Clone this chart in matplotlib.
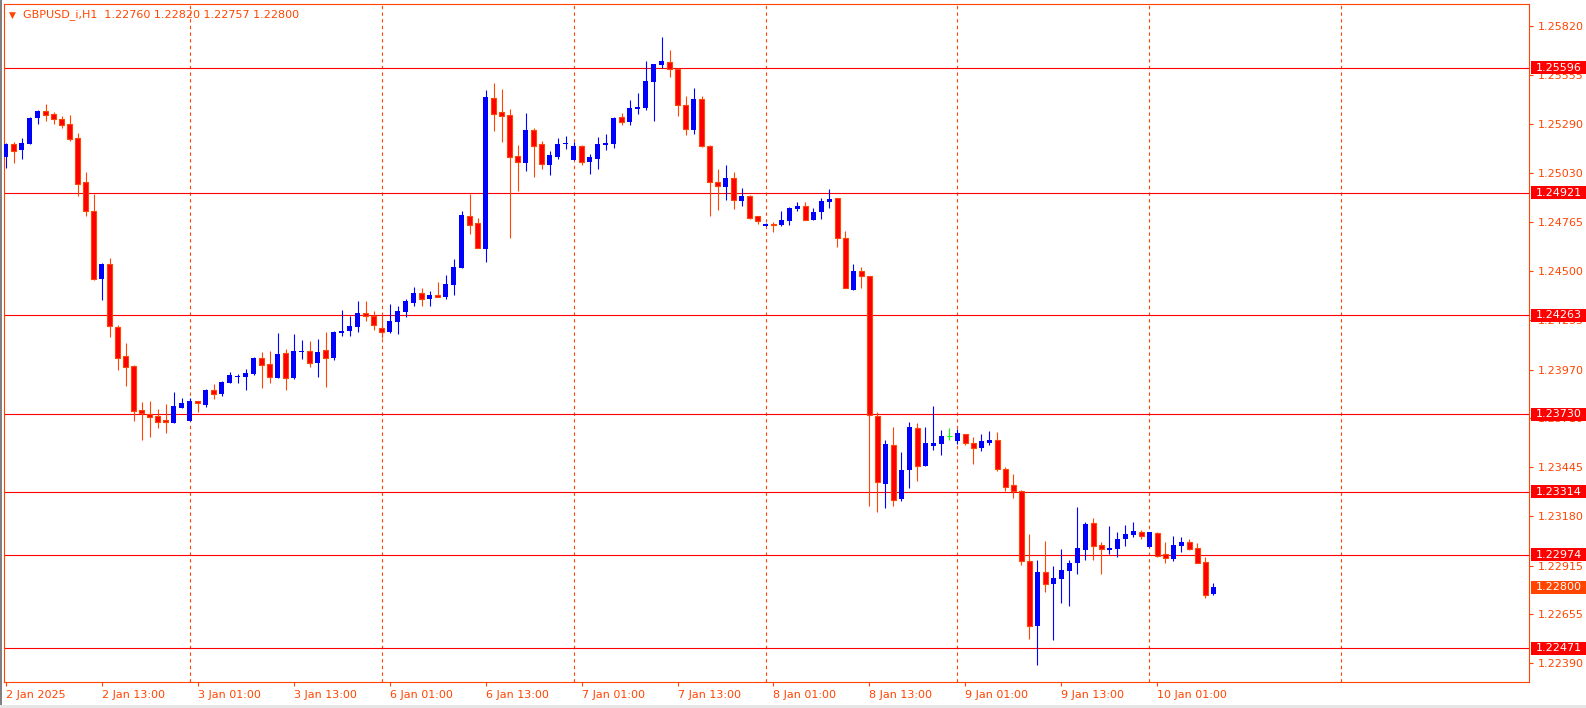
import numpy as np
import pandas as pd
import matplotlib
matplotlib.use("Agg")
import matplotlib.pyplot as plt
import matplotlib.transforms as mtransforms
from matplotlib.patches import Rectangle

symbol = "GBPUSD_i,H1"

# hourly bars, 2 Jan 01:00 .. 3 Jan 23:00 and 6 Jan 00:00 .. 10 Jan 08:00
times = pd.date_range("2025-01-02 01:00", "2025-01-03 23:00", freq="h").append(
    pd.date_range("2025-01-06 00:00", "2025-01-10 08:00", freq="h"))

opens = [1.25117, 1.25185, 1.25153, 1.25185, 1.25326, 1.25363, 1.25346, 1.25320, 1.25293, 1.25217,
         1.24980, 1.24824, 1.24460, 1.24539, 1.24200, 1.24044, 1.23990, 1.23753, 1.23732, 1.23721,
         1.23701, 1.23685, 1.23766, 1.23696, 1.23800, 1.23780, 1.23859, 1.23839, 1.23900, 1.23931,
         1.23931, 1.23947, 1.24032, 1.24001, 1.23927, 1.24059, 1.23924, 1.24066, 1.24069, 1.24008,
         1.24076, 1.24033, 1.24169, 1.24180, 1.24200, 1.24274, 1.24259, 1.24193, 1.24173, 1.24227,
         1.24281, 1.24329, 1.24383, 1.24352, 1.24372, 1.24362, 1.24426, 1.24518, 1.24797, 1.24760,
         1.24620, 1.25433, 1.25356, 1.25341, 1.25119, 1.25084, 1.25260, 1.25185, 1.25074, 1.25115,
         1.25183, 1.25100, 1.25173, 1.25090, 1.25106, 1.25181, 1.25187, 1.25329, 1.25305, 1.25375,
         1.25380, 1.25520, 1.25612, 1.25625, 1.25589, 1.25395, 1.25262, 1.25427, 1.25173, 1.24979,
         1.24955, 1.25000, 1.24880, 1.24903, 1.24796, 1.24745, 1.24756, 1.24749, 1.24772, 1.24835,
         1.24851, 1.24778, 1.24819, 1.24873, 1.24894, 1.24679, 1.24401, 1.24500, 1.24475, 1.23721,
         1.23357, 1.23565, 1.23274, 1.23430, 1.23656, 1.23454, 1.23561, 1.23572, 1.23615, 1.23588,
         1.23624, 1.23576, 1.23550, 1.23576, 1.23592, 1.23436, 1.23350, 1.23317, 1.22941, 1.22592,
         1.22881, 1.22818, 1.22845, 1.22888, 1.22932, 1.23001, 1.23145, 1.23025, 1.23001, 1.23007,
         1.23061, 1.23082, 1.23097, 1.23018, 1.23091, 1.22978, 1.22953, 1.23023, 1.23043, 1.23011,
         1.22935, 1.22760]
highs = [1.25190, 1.25197, 1.25219, 1.25330, 1.25368, 1.25400, 1.25357, 1.25336, 1.25343, 1.25246,
         1.25034, 1.24917, 1.24544, 1.24573, 1.24211, 1.24114, 1.23995, 1.23796, 1.23803, 1.23760,
         1.23787, 1.23850, 1.23818, 1.23820, 1.23803, 1.23866, 1.23893, 1.23911, 1.23958, 1.23949,
         1.23974, 1.24040, 1.24067, 1.24073, 1.24168, 1.24082, 1.24162, 1.24130, 1.24125, 1.24135,
         1.24173, 1.24178, 1.24291, 1.24259, 1.24340, 1.24340, 1.24286, 1.24265, 1.24324, 1.24313,
         1.24351, 1.24415, 1.24410, 1.24394, 1.24442, 1.24480, 1.24566, 1.24824, 1.24917, 1.24787,
         1.25476, 1.25513, 1.25481, 1.25373, 1.25180, 1.25352, 1.25271, 1.25201, 1.25147, 1.25217,
         1.25228, 1.25196, 1.25180, 1.25131, 1.25223, 1.25239, 1.25330, 1.25352, 1.25422, 1.25459,
         1.25632, 1.25616, 1.25761, 1.25692, 1.25596, 1.25443, 1.25486, 1.25443, 1.25180, 1.25050,
         1.25072, 1.25034, 1.24948, 1.24909, 1.24797, 1.24761, 1.24765, 1.24824, 1.24846, 1.24873,
         1.24873, 1.24841, 1.24894, 1.24943, 1.24895, 1.24717, 1.24539, 1.24525, 1.24476, 1.23743,
         1.23592, 1.23662, 1.23527, 1.23689, 1.23683, 1.23663, 1.23775, 1.23646, 1.23656, 1.23651,
         1.23625, 1.23608, 1.23624, 1.23640, 1.23635, 1.23447, 1.23409, 1.23323, 1.23086, 1.22946,
         1.23048, 1.22914, 1.23005, 1.22946, 1.23231, 1.23151, 1.23172, 1.23043, 1.23129, 1.23097,
         1.23134, 1.23151, 1.23108, 1.23098, 1.23097, 1.23043, 1.23075, 1.23070, 1.23059, 1.23038,
         1.22962, 1.22820]
lows = [1.25057, 1.25081, 1.25104, 1.25183, 1.25294, 1.25310, 1.25293, 1.25273, 1.25203, 1.24905,
        1.24797, 1.24453, 1.24345, 1.24148, 1.23969, 1.23882, 1.23694, 1.23592, 1.23610, 1.23658,
        1.23631, 1.23683, 1.23764, 1.23694, 1.23744, 1.23771, 1.23811, 1.23830, 1.23899, 1.23899,
        1.23861, 1.23942, 1.23872, 1.23899, 1.23925, 1.23861, 1.23922, 1.24028, 1.23985, 1.23931,
        1.23877, 1.24024, 1.24152, 1.24152, 1.24173, 1.24232, 1.24184, 1.24141, 1.24170, 1.24164,
        1.24254, 1.24315, 1.24315, 1.24315, 1.24362, 1.24352, 1.24372, 1.24516, 1.24702, 1.24625,
        1.24550, 1.25255, 1.25197, 1.24681, 1.24934, 1.25041, 1.25009, 1.25052, 1.25020, 1.25106,
        1.25160, 1.25099, 1.25074, 1.25025, 1.25052, 1.25154, 1.25165, 1.25289, 1.25289, 1.25348,
        1.25370, 1.25310, 1.25594, 1.25547, 1.25337, 1.25233, 1.25240, 1.25171, 1.24799, 1.24831,
        1.24885, 1.24837, 1.24853, 1.24783, 1.24754, 1.24744, 1.24711, 1.24744, 1.24749, 1.24824,
        1.24776, 1.24776, 1.24781, 1.24841, 1.24631, 1.24410, 1.24399, 1.24412, 1.23238, 1.23206,
        1.23228, 1.23238, 1.23265, 1.23334, 1.23373, 1.23452, 1.23540, 1.23513, 1.23592, 1.23570,
        1.23565, 1.23464, 1.23534, 1.23567, 1.23427, 1.23317, 1.23280, 1.22921, 1.22522, 1.22382,
        1.22775, 1.22517, 1.22716, 1.22700, 1.22872, 1.22948, 1.22948, 1.22872, 1.22980, 1.22964,
        1.23023, 1.23071, 1.23057, 1.23017, 1.22964, 1.22932, 1.22942, 1.22991, 1.23001, 1.22930,
        1.22743, 1.22757]
closes = [1.25185, 1.25149, 1.25192, 1.25325, 1.25364, 1.25343, 1.25318, 1.25289, 1.25213, 1.24971,
          1.24823, 1.24458, 1.24541, 1.24204, 1.24035, 1.23986, 1.23750, 1.23739, 1.23714, 1.23690,
          1.23687, 1.23776, 1.23791, 1.23802, 1.23789, 1.23861, 1.23841, 1.23904, 1.23940, 1.23938,
          1.23952, 1.24035, 1.23997, 1.23933, 1.24055, 1.23927, 1.24071, 1.24073, 1.24008, 1.24066,
          1.24035, 1.24173, 1.24178, 1.24205, 1.24275, 1.24258, 1.24209, 1.24175, 1.24232, 1.24286,
          1.24340, 1.24383, 1.24352, 1.24372, 1.24363, 1.24431, 1.24523, 1.24803, 1.24751, 1.24627,
          1.25438, 1.25348, 1.25337, 1.25117, 1.25090, 1.25260, 1.25176, 1.25079, 1.25126, 1.25185,
          1.25190, 1.25174, 1.25085, 1.25115, 1.25185, 1.25192, 1.25325, 1.25305, 1.25379, 1.25379,
          1.25524, 1.25615, 1.25632, 1.25587, 1.25393, 1.25264, 1.25427, 1.25173, 1.24979, 1.24957,
          1.25002, 1.24882, 1.24903, 1.24788, 1.24768, 1.24756, 1.24747, 1.24776, 1.24841, 1.24851,
          1.24778, 1.24819, 1.24878, 1.24889, 1.24681, 1.24412, 1.24501, 1.24473, 1.23725, 1.23364,
          1.23572, 1.23267, 1.23430, 1.23662, 1.23454, 1.23576, 1.23576, 1.23613, 1.23615, 1.23630,
          1.23574, 1.23550, 1.23587, 1.23592, 1.23437, 1.23341, 1.23317, 1.22942, 1.22592, 1.22881,
          1.22818, 1.22849, 1.22892, 1.22930, 1.23011, 1.23140, 1.23023, 1.23007, 1.23011, 1.23059,
          1.23086, 1.23102, 1.23077, 1.23097, 1.22969, 1.22958, 1.23027, 1.23043, 1.23007, 1.22932,
          1.22759, 1.22800]

# horizontal levels drawn on the chart
levels = [1.25596, 1.24921, 1.24263, 1.23730, 1.23314, 1.22974, 1.22471]
price_ticks = [1.25820, 1.25555, 1.25290, 1.25030, 1.24765, 1.24500, 1.24235,
               1.23970, 1.23710, 1.23445, 1.23180, 1.22915, 1.22655, 1.22390]

fg = "#FF4500"
bull = "#0000FF"
bear = "#FF0000"
doji = "#00FF00"
W, H = 1586, 708

plt.rcParams["font.family"] = "DejaVu Sans"
plt.rcParams["font.size"] = 8

fig = plt.figure(figsize=(W / 100, H / 100), dpi=100)
ax = fig.add_axes([4 / W, 1 - 682 / H, 1525 / W, 678 / H])

o = np.array(opens)
h = np.array(highs)
l = np.array(lows)
c = np.array(closes)
x = np.arange(len(o))
up = c > o
dn = c < o
eq = c == o

# wicks
ax.vlines(x[up], l[up], h[up], color=bull, lw=0.8, zorder=3)
ax.vlines(x[dn], l[dn], h[dn], color=fg, lw=0.8, zorder=3)
ax.vlines(x[eq], l[eq], h[eq], color=doji, lw=0.8, zorder=3)
# bodies
minh = 0.00006
ax.bar(x[up], np.maximum(c[up] - o[up], minh), bottom=o[up], width=0.62,
       color=bull, lw=0, zorder=4)
ax.bar(x[dn], np.maximum(o[dn] - c[dn], minh), bottom=c[dn], width=0.52,
       color=bear, edgecolor=fg, lw=0.8, zorder=4)
ax.hlines(o[eq], x[eq] - 0.31, x[eq] + 0.31, color=doji, lw=0.8, zorder=4)

# day separators (midnight bars, plus the next session)
day_idx = list(np.where(times.hour == 0)[0])
day_idx.append(day_idx[-1] + 24)
for d in day_idx:
    ax.axvline(d, color=fg, lw=0.8, ls=(0, (3, 3)), zorder=1)

for lv in levels:
    ax.axhline(lv, color=bear, lw=0.8, zorder=2)

ax.set_xlim(-0.19, 190.44)
ax.set_ylim(1.22289, 1.25938)

# x ticks every 12 bars
tick_idx = [i for i in range(len(times)) if times[i].hour in (1, 13)]
tick_lbl = [f"{times[i].day} {times[i]:%b %H:%M}" for i in tick_idx]
tick_lbl[0] = f"{times[0].day} {times[0]:%b %Y}"
ax.set_xticks(tick_idx)
ax.set_xticklabels(tick_lbl, ha="left")
ax.tick_params(axis="x", colors=fg, length=3, width=0.8, pad=3, labelsize=8)

ax.yaxis.tick_right()
ax.set_yticks(price_ticks)
ax.set_yticklabels([f"{p:.5f}" for p in price_ticks])
ax.tick_params(axis="y", colors=fg, length=3, width=0.8, pad=3, labelsize=8)

for s in ax.spines.values():
    s.set_color(fg)
    s.set_linewidth(0.8)

# price boxes on the right scale
blend = mtransforms.blended_transform_factory(ax.transAxes, ax.transData)
box_h = 0.00070
for lv, col in [(lv, bear) for lv in levels] + [(closes[-1], fg)]:
    ax.add_patch(Rectangle((1 + 2 / 1525, lv - box_h / 2), 0.05, box_h,
                           transform=blend, facecolor=col, edgecolor="none",
                           clip_on=False, zorder=10))
    ax.text(1 + 7 / 1525, lv, f"{lv:.5f}", transform=blend, color="white",
            va="center", ha="left", fontsize=8, clip_on=False, zorder=11)

# header
fig.text(9 / W, 1 - 15 / H, "\u25bc", color=fg, fontsize=6.5, va="center")
fig.text(23 / W, 1 - 15 / H,
         f"{symbol}  {opens[-1]:.5f} {highs[-1]:.5f} {lows[-1]:.5f} {closes[-1]:.5f}",
         color=fg, fontsize=8, va="center")

# window border bits
fig.patches.append(Rectangle((0, 0), 2 / W, 1, transform=fig.transFigure,
                             facecolor="#808080", edgecolor="none"))
fig.patches.append(Rectangle((0, 0), 1, 3 / H, transform=fig.transFigure,
                             facecolor="#E6E6E6", edgecolor="none"))

fig.savefig("out.png", dpi=100)
